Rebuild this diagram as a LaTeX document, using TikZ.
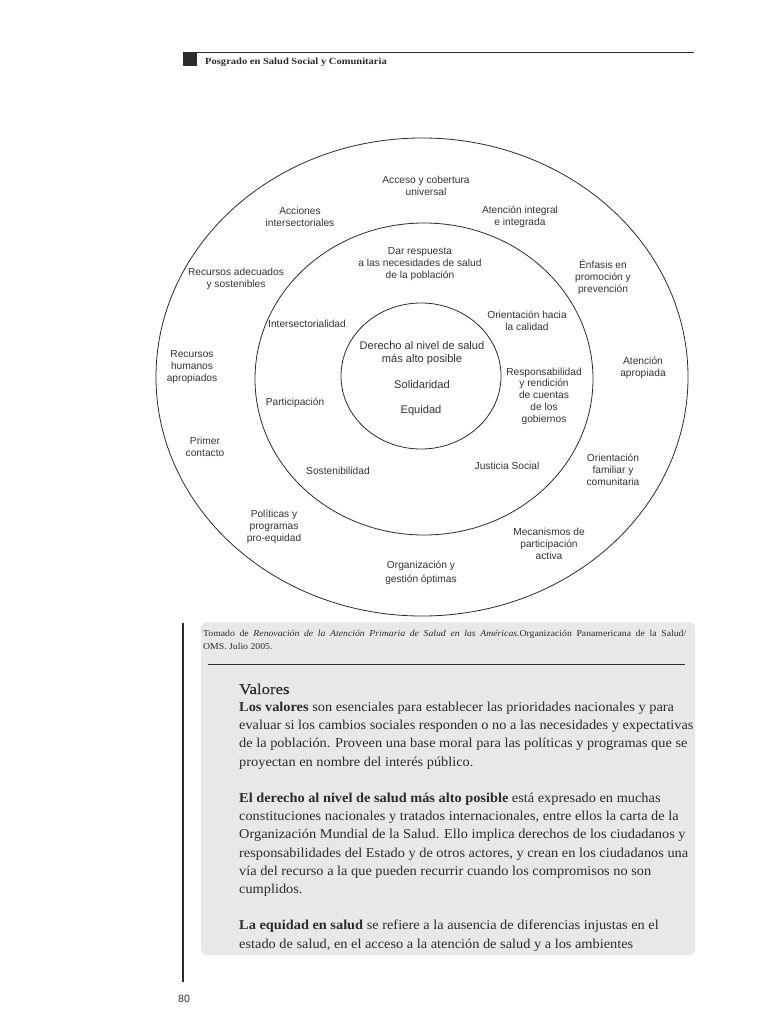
\documentclass[tikz,border=0pt]{standalone}
\usepackage{fontspec}
\setmainfont{Liberation Serif}
\newfontfamily\sansf{Liberation Sans}
\newfontfamily\bodyf[FakeStretch=1.055]{Liberation Serif}
\newfontfamily\capf[FakeStretch=1.07]{Liberation Serif}
\newfontfamily\hdrf[FakeStretch=1.12]{Liberation Serif}
\newfontfamily\headf[FakeStretch=1.12,FakeBold=0.3]{Liberation Serif}
\definecolor{ink}{HTML}{2B2B2B}
\definecolor{labelgray}{HTML}{333333}
\definecolor{boxgray}{HTML}{E8E8E8}
\tikzset{
  ring/.style={draw=ink, line width=0.8pt},
  lbl/.style={align=center, inner sep=0pt, text=labelgray, font=\sansf\fontsize{10.2}{11.8}\selectfont},
  corelbl/.style={align=center, inner sep=0pt, text=labelgray, font=\sansf\fontsize{11.1}{13}\selectfont},
  bodyline/.style={anchor=base west, inner sep=0pt, text=ink, font=\bodyf\fontsize{13.6}{18}\selectfont},
  capline/.style={anchor=base west, inner sep=0pt, text=ink, font=\capf\fontsize{9.1}{13}\selectfont},
}
\begin{document}
\begin{tikzpicture}[x=1pt,y=-1pt]
\useasboundingbox[fill=white] (0,0) rectangle (768,1024);
% header
\fill[ink] (183,52) rectangle (197,66.5) coordinate (sq);
\draw[ink, line width=1pt] (197,52.3) -- (694,52.3);
\node[anchor=base west, inner sep=0pt, text=ink, font=\hdrf\bfseries\fontsize{9.4}{10}\selectfont] (hdr) at (205,65) {Posgrado en Salud Social y Comunitaria};
% rings
\draw[ring] (422,377) ellipse [x radius=266, y radius=239];
\draw[ring] (424,379) ellipse [x radius=169, y radius=156];
\draw[ring] (421,376) ellipse [x radius=80, y radius=73];
% outer ring labels
\node[lbl] (acceso) at (426,186) {Acceso y cobertura\\universal};
\node[lbl] (acciones) at (300,217) {Acciones\\intersectoriales};
\node[lbl] (integral) at (520,217) {Atención integral\\e integrada};
\node[lbl] (recadec) at (236,279) {Recursos adecuados\\y sostenibles};
\node[lbl] (enfasis) at (603,277) {Énfasis en\\promoción y\\prevención};
\node[lbl] (rechum) at (192,367) {Recursos\\humanos\\apropiados};
\node[lbl] (apropiada) at (643,368) {Atención\\apropiada};
\node[lbl] (primer) at (205,447) {Primer\\contacto};
\node[lbl] (familiar) at (613,470) {Orientación\\familiar y\\comunitaria};
\node[lbl] (politicas) at (274,527) {Políticas y\\programas\\pro-equidad};
\node[lbl] (mecanismos) at (549,544) {Mecanismos de\\participación\\activa};
\node[lbl, font=\sansf\fontsize{10.2}{14}\selectfont] (organizacion) at (421,573) {Organización y\\gestión óptimas};
% middle ring labels
\node[lbl] (respuesta) at (420,264) {Dar respuesta\\a las necesidades de salud\\de la población};
\node[lbl] (intersect) at (307,324) {Intersectorialidad};
\node[lbl] (calidad) at (527,321) {Orientación hacia\\la calidad};
\node[lbl] (particip) at (295,403) {Participación};
\node[lbl] (respons) at (544,396) {Responsabilidad\\y rendición\\de cuentas\\de los\\gobiernos};
\node[lbl] (sosten) at (338,471) {Sostenibilidad};
\node[lbl] (justicia) at (507,466) {Justicia Social};
% core labels
\node[corelbl] (derecho) at (422,353) {Derecho al nivel de salud\\más alto posible};
\node[corelbl] (solid) at (422,385) {Solidaridad};
\node[corelbl] (equidad) at (421,411) {Equidad};
% caption box
\fill[boxgray, rounded corners=6pt] (201,622) rectangle (695,955);
\draw[ink, line width=1.3pt] (183,623) -- (183,982);
\node[capline] (cap1) at (203,636) {\makebox[483pt][s]{Tomado de \textit{Renovación de la Atención Primaria de Salud en las Américas.}Organización Panamericana de la Salud/}};
\node[capline] (cap2) at (203,649) {OMS. Julio 2005.};
\draw[ink, line width=0.9pt] (208,664.5) -- (685,664.5);
% body
\node[anchor=base west, inner sep=0pt, text=ink, font=\headf\fontsize{15}{18}\selectfont] (valores) at (239,694) {Valores};
\node[bodyline] (l1) at (239,711) {\textbf{Los valores} son esenciales para establecer las prioridades nacionales y para};
\node[bodyline] (l2) at (239,729.5) {evaluar si los cambios sociales responden o no a las necesidades y expectativas};
\node[bodyline] (l3) at (239,747.5) {de la población. Proveen una base moral para las políticas y programas que se};
\node[bodyline] (l4) at (239,766) {proyectan en nombre del interés público.};
\node[bodyline] (m1) at (239,802) {\textbf{El derecho al nivel de salud más alto posible} está expresado en muchas};
\node[bodyline] (m2) at (239,820.5) {constituciones nacionales y tratados internacionales, entre ellos la carta de la};
\node[bodyline] (m3) at (239,838.5) {Organización Mundial de la Salud. Ello implica derechos de los ciudadanos y};
\node[bodyline] (m4) at (239,857) {responsabilidades del Estado y de otros actores, y crean en los ciudadanos una};
\node[bodyline] (m5) at (239,875.5) {vía del recurso a la que pueden recurrir cuando los compromisos no son};
\node[bodyline] (m6) at (239,893.5) {cumplidos.};
\node[bodyline] (n1) at (239,929.5) {\textbf{La equidad en salud} se refiere a la ausencia de diferencias injustas en el};
\node[bodyline] (n2) at (239,948) {estado de salud, en el acceso a la atención de salud y a los ambientes};
% page number
\node[anchor=base, inner sep=0pt, text=ink, font=\sansf\fontsize{10.5}{12}\selectfont] (pagenum) at (184,1002) {80};
\end{tikzpicture}
\end{document}
